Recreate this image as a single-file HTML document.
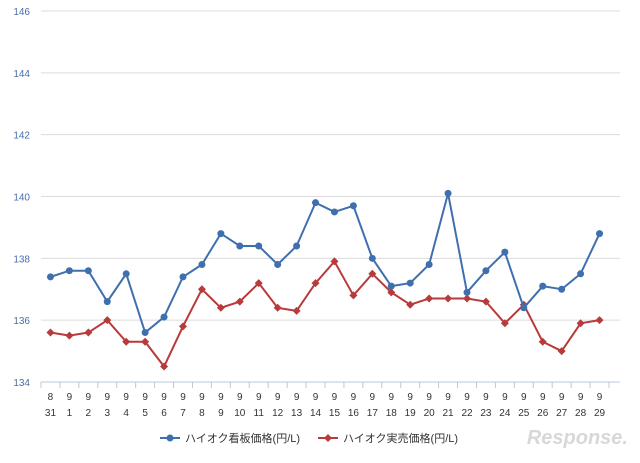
<!DOCTYPE html>
<html><head><meta charset="utf-8"><style>
body{margin:0;background:#fff;}
svg{font-family:"Liberation Sans","Noto Sans CJK JP",sans-serif;}
</style></head><body>
<svg id="c" width="640" height="458"></svg>
<script>
const days=["31","1","2","3","4","5","6","7","8","9","10","11","12","13","14","15","16","17","18","19","20","21","22","23","24","25","26","27","28","29"];
const months=["8","9","9","9","9","9","9","9","9","9","9","9","9","9","9","9","9","9","9","9","9","9","9","9","9","9","9","9","9","9"];
const signPrice=[137.4,137.6,137.6,136.6,137.5,135.6,136.1,137.4,137.8,138.8,138.4,138.4,137.8,138.4,139.8,139.5,139.7,138.0,137.1,137.2,137.8,140.1,136.9,137.6,138.2,136.4,137.1,137.0,137.5,138.8];
const actualPrice=[135.6,135.5,135.6,136.0,135.3,135.3,134.5,135.8,137.0,136.4,136.6,137.2,136.4,136.3,137.2,137.9,136.8,137.5,136.9,136.5,136.7,136.7,136.7,136.6,135.9,136.5,135.3,135.0,135.9,136.0];
const yTicks=[134,136,138,140,142,144,146];
const NS="http://www.w3.org/2000/svg",svg=document.getElementById('c');
const x0=41,x1=609,yT=11,yB=382,yMin=134,yMax=146;
const step=(x1-x0)/days.length;
const X=i=>x0+step*(i+0.5);
const Y=v=>yB-(v-yMin)/(yMax-yMin)*(yB-yT);
function el(t,a,p){const e=document.createElementNS(NS,t);for(const k in a)e.setAttribute(k,a[k]);(p||svg).appendChild(e);return e;}
yTicks.forEach(v=>{
 const g=el('line',{x1:x0,x2:620,y1:Y(v),y2:Y(v),stroke:v===134?'#b8c8dc':'#dcdcdc','stroke-width':1});
 
 
 const t=el('text',{x:30,y:Y(v)+4,'text-anchor':'end','font-size':10,fill:'#4a6fa5'});t.textContent=v;
 
 
});
for(let i=0;i<=days.length;i++){const l=el('line',{x1:x0+step*i,x2:x0+step*i,y1:yB,y2:yB+6,stroke:'#b8c8dc'});
 
 }
days.forEach((d,i)=>{
 const m=el('text',{x:X(i),y:400,'text-anchor':'middle','font-size':10,fill:'#333'});m.textContent=months[i];
 
 
 const t=el('text',{x:X(i),y:416,'text-anchor':'middle','font-size':10,fill:'#333'});t.textContent=d;
 
 
});
function series(vals,color,marker,name){
 const p=el('polyline',{points:vals.map((v,i)=>X(i)+','+Y(v)).join(' '),fill:'none',stroke:color,'stroke-width':2});
 
 
 vals.forEach((v,i)=>{
  let m;
  if(marker==='circle')m=el('circle',{cx:X(i),cy:Y(v),r:3.5,fill:color});
  else{const cx=X(i),cy=Y(v);m=el('polygon',{points:`${cx},${cy-4} ${cx+4},${cy} ${cx},${cy+4} ${cx-4},${cy}`,fill:color});}
  
  
 });
}
series(actualPrice,'#b83a3a','diamond','actual-price');
series(signPrice,'#3f6fae','circle','sign-price');
function legend(x,color,marker,label,name){
 const g=el('g',{});
 
 
 el('line',{x1:x,x2:x+20,y1:438,y2:438,stroke:color,'stroke-width':2},g);
 if(marker==='circle')el('circle',{cx:x+10,cy:438,r:3.5,fill:color},g);
 else el('polygon',{points:`${x+10},434 ${x+14},438 ${x+10},442 ${x+6},438`,fill:color},g);
 const t=el('text',{x:x+25,y:442,'font-size':11,fill:'#333'},g);t.textContent=label;
}
legend(160,'#3f6fae','circle','ハイオク看板価格(円/L)','legend-sign-price');
legend(318,'#b83a3a','diamond','ハイオク実売価格(円/L)','legend-actual-price');
const w=el('text',{x:628,y:444,'text-anchor':'end','font-size':20,'font-style':'italic','font-weight':'bold',fill:'#d8d8d8'});w.textContent='Response.';


</script>
</body></html>
